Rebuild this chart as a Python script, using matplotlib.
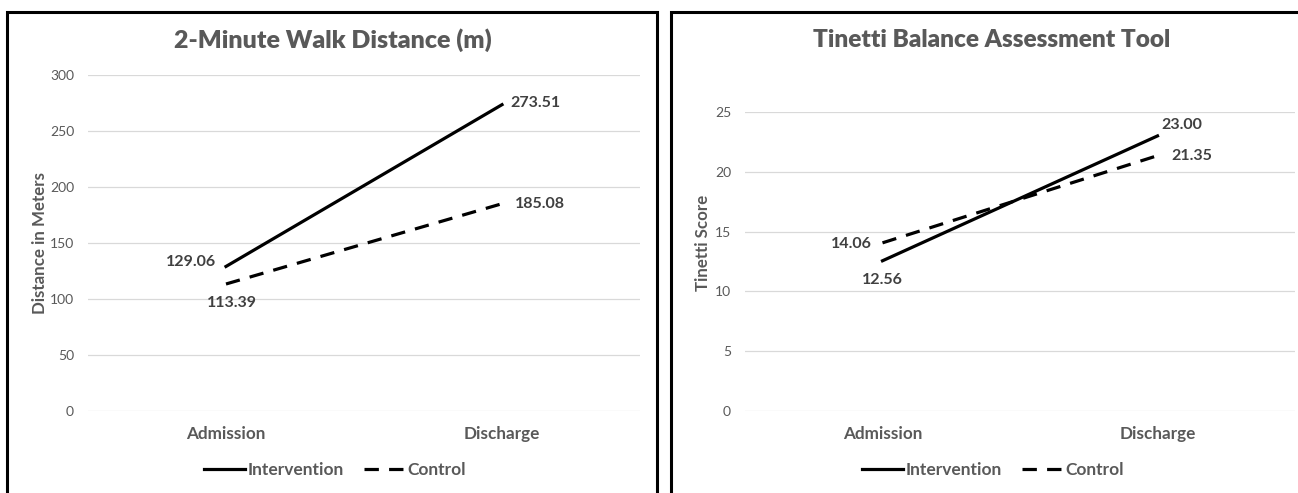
import matplotlib.pyplot as plt
from matplotlib.patches import Rectangle
from matplotlib.lines import Line2D

plt.rcParams['font.family'] = ['Lato', 'DejaVu Sans']

stages = ['Admission', 'Discharge']

walk_intervention = [129.06, 273.51]
walk_control = [113.39, 185.08]
walk_ticks = [0, 50, 100, 150, 200, 250, 300]

tinetti_intervention = [12.56, 23.00]
tinetti_control = [14.06, 21.35]
tinetti_ticks = [0, 5, 10, 15, 20, 25]

GRAY = '#595959'
DARK = '#404040'
W, H = 1298, 493


def px_axes(fig, x0, x1, ytop, ybot):
    return fig.add_axes([x0 / W, 1 - ybot / H, (x1 - x0) / W, (ybot - ytop) / H])


def style_axes(ax, ticks):
    ax.set_xlim(-0.5, 1.5)
    ax.set_ylim(ticks[0], ticks[-1])
    ax.set_yticks(ticks)
    ax.set_xticks(range(len(stages)))
    ax.set_xticklabels(stages, fontsize=12.3, fontweight='bold', color=GRAY)
    ax.tick_params(axis='y', length=0, pad=10, labelsize=10, labelcolor=GRAY)
    ax.tick_params(axis='x', length=0, pad=11)
    for s in ax.spines.values():
        s.set_visible(False)
    ax.grid(axis='y', color='#d9d9d9', lw=0.9)
    ax.set_axisbelow(True)


def label(ax, x, y, text, dx, dy, ha):
    ax.annotate(text, (x, y), xytext=(dx, dy), textcoords='offset points',
                ha=ha, va='center', fontsize=11.5, fontweight='bold', color=DARK)


fig = plt.figure(figsize=(12.98, 4.93), dpi=100)

# panel frames
fig.patches.append(Rectangle((7 / W, -0.1), 650 / W, 1.1 - 12 / H, transform=fig.transFigure,
                             fill=False, ec='black', lw=2.2))
fig.patches.append(Rectangle((671 / W, -0.1), 0.6, 1.1 - 12 / H, transform=fig.transFigure,
                             fill=False, ec='black', lw=2.2))

# 2-minute walk
ax1 = px_axes(fig, 88, 640, 75, 411)
style_axes(ax1, walk_ticks)
ax1.plot([0, 1], walk_intervention, color='black', lw=2.3)
ax1.plot([0, 1], walk_control, color='black', lw=2.3, dashes=(4.5, 3.2))
label(ax1, 0, walk_intervention[0], f'{walk_intervention[0]:.2f}', -7, 3, 'right')
label(ax1, 0, walk_control[0], f'{walk_control[0]:.2f}', 4, -14, 'center')
label(ax1, 1, walk_intervention[1], f'{walk_intervention[1]:.2f}', 6, 1, 'left')
label(ax1, 1, walk_control[1], f'{walk_control[1]:.2f}', 9, 0, 'left')
fig.text(333 / W, 1 - 40 / H, '2-Minute Walk Distance (m)', ha='center', va='center',
         fontsize=18, fontweight='heavy', color=GRAY)
fig.text(40 / W, 1 - 243 / H, 'Distance in Meters', rotation=90, ha='center', va='center',
         fontsize=12.2, fontweight='bold', color=GRAY)

# Tinetti
ax2 = px_axes(fig, 745, 1295, 112, 411)
style_axes(ax2, tinetti_ticks)
ax2.plot([0, 1], tinetti_intervention, color='black', lw=2.3)
ax2.plot([0, 1], tinetti_control, color='black', lw=2.3, dashes=(4.5, 3.2))
label(ax2, 0, tinetti_intervention[0], f'{tinetti_intervention[0]:.2f}', 0, -14, 'center')
label(ax2, 0, tinetti_control[0], f'{tinetti_control[0]:.2f}', -8, -1, 'right')
label(ax2, 1, tinetti_intervention[1], f'{tinetti_intervention[1]:.2f}', 3, 8, 'left')
label(ax2, 1, tinetti_control[1], f'{tinetti_control[1]:.2f}', 10, 0, 'left')
fig.text(992 / W, 1 - 40 / H, 'Tinetti Balance Assessment Tool', ha='center', va='center',
         fontsize=17.6, fontweight='heavy', color=GRAY)
fig.text(703 / W, 1 - 243 / H, 'Tinetti Score', rotation=90, ha='center', va='center',
         fontsize=12.2, fontweight='bold', color=GRAY)

handles = [Line2D([], [], color='black', lw=2.3),
           Line2D([], [], color='black', lw=2.3, dashes=(4.5, 3.2))]
for cx in (335, 993):
    leg = fig.legend(handles, ['Intervention', 'Control'], loc='center', ncol=2,
                     bbox_to_anchor=(cx / W, 1 - 470 / H), frameon=False,
                     handlelength=2.35, handletextpad=0.15, columnspacing=1.2,
                     prop={'size': 12.5, 'weight': 'bold'})
    for t in leg.get_texts():
        t.set_color(GRAY)

fig.savefig('out.png', dpi=100)
